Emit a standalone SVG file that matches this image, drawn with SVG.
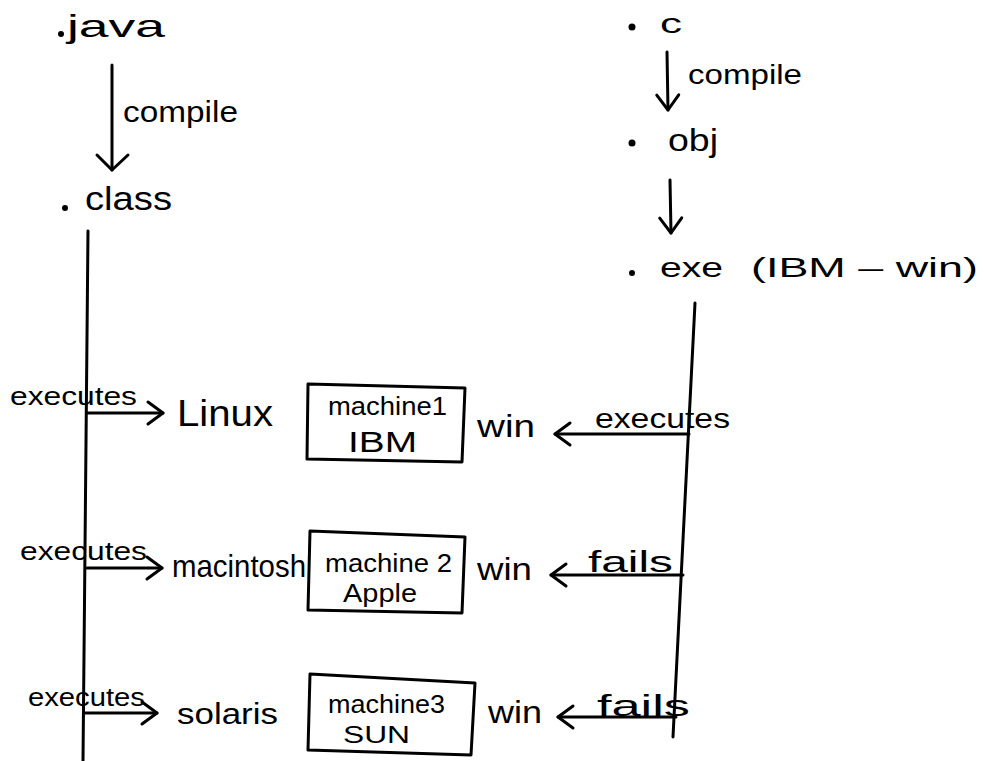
<svg xmlns="http://www.w3.org/2000/svg" width="984" height="761" viewBox="0 0 984 761">
  <style>
    text { font-family: "Liberation Sans", Arial, sans-serif; fill: #000; }
    .ln { stroke: #000; stroke-width: 3; fill: none; stroke-linecap: round; }
    .arr { stroke: #000; stroke-width: 3; fill: none; stroke-linecap: round; marker-end: url(#ah); }
    .arrbig { stroke: #000; stroke-width: 3; fill: none; stroke-linecap: round; marker-end: url(#ahbig); }
    .box { stroke: #000; stroke-width: 3; fill: #fff; stroke-linejoin: round; }
  </style>
  <defs>
    <marker id="ah" viewBox="0 0 20 28" refX="18" refY="14" markerWidth="20" markerHeight="28" markerUnits="userSpaceOnUse" orient="auto" overflow="visible">
      <path d="M3,3 L18,14 L3,25" fill="none" stroke="#000" stroke-width="3" stroke-linecap="round" stroke-linejoin="round"/>
    </marker>
    <marker id="ahbig" viewBox="0 0 20 36" refX="18" refY="18" markerWidth="20" markerHeight="36" markerUnits="userSpaceOnUse" orient="auto" overflow="visible">
      <path d="M3,2 L18,18 L3,33" fill="none" stroke="#000" stroke-width="3" stroke-linecap="round" stroke-linejoin="round"/>
    </marker>
  </defs>
  <rect width="984" height="761" fill="#fff"/>

  <!-- Left column nodes -->
  <g id="java">
    <circle cx="61" cy="34" r="3"/>
    <text x="67" y="37" font-size="32" textLength="98" lengthAdjust="spacingAndGlyphs">java</text>
  </g>
  <g id="class">
    <circle cx="65" cy="208" r="3"/>
    <text x="85" y="210" font-size="34" textLength="87" lengthAdjust="spacingAndGlyphs">class</text>
  </g>
  <g id="linux">
    <text x="177" y="426" font-size="36" textLength="96" lengthAdjust="spacingAndGlyphs">Linux</text>
  </g>
  <g id="macintosh">
    <text x="172" y="577" font-size="32" textLength="134" lengthAdjust="spacingAndGlyphs">macintosh</text>
  </g>
  <g id="solaris">
    <text x="177" y="724" font-size="30" textLength="101" lengthAdjust="spacingAndGlyphs">solaris</text>
  </g>

  <!-- Machines -->
  <g id="machine1">
    <polygon class="box" points="308,384 465,388 462,462 307,459"/>
    <text x="328" y="415" font-size="25" textLength="119" lengthAdjust="spacingAndGlyphs">machine1</text>
    <text x="348" y="452" font-size="30" textLength="69" lengthAdjust="spacingAndGlyphs">IBM</text>
  </g>
  <g id="machine2">
    <polygon class="box" points="310,531 465,537 462,613 308,610"/>
    <text x="325" y="572" font-size="25" textLength="127" lengthAdjust="spacingAndGlyphs">machine 2</text>
    <text x="343" y="602" font-size="26" textLength="74" lengthAdjust="spacingAndGlyphs">Apple</text>
  </g>
  <g id="machine3">
    <polygon class="box" points="310,674 475,683 471,755 308,750"/>
    <text x="328" y="713" font-size="25" textLength="117" lengthAdjust="spacingAndGlyphs">machine3</text>
    <text x="343" y="743" font-size="23" textLength="67" lengthAdjust="spacingAndGlyphs">SUN</text>
  </g>

  <!-- Right column nodes -->
  <g id="c">
    <circle cx="632" cy="27" r="3.5"/>
    <text x="660" y="33" font-size="28" textLength="22" lengthAdjust="spacingAndGlyphs">c</text>
  </g>
  <g id="obj">
    <circle cx="632" cy="143" r="3.5"/>
    <text x="668" y="151" font-size="32" textLength="50" lengthAdjust="spacingAndGlyphs">obj</text>
  </g>
  <g id="exe">
    <circle cx="632" cy="273" r="3"/>
    <text y="277" font-size="28"><tspan x="660" textLength="63" lengthAdjust="spacingAndGlyphs">exe</tspan><tspan x="751" textLength="227" lengthAdjust="spacingAndGlyphs">(IBM – win)</tspan></text>
  </g>
  <g id="win1">
    <text x="477" y="437" font-size="32" textLength="58" lengthAdjust="spacingAndGlyphs">win</text>
  </g>
  <g id="win2">
    <text x="477" y="580" font-size="32" textLength="55" lengthAdjust="spacingAndGlyphs">win</text>
  </g>
  <g id="win3">
    <text x="488" y="723" font-size="32" textLength="54" lengthAdjust="spacingAndGlyphs">win</text>
  </g>

  <!-- Connectors -->
  <g id="connectors">
    <line class="arrbig" x1="112" y1="65" x2="112" y2="170"/>
    <line class="ln" x1="88" y1="231" x2="83" y2="761"/>
    <line class="arr" x1="88" y1="413" x2="163" y2="413"/>
    <line class="arr" x1="87" y1="568" x2="162" y2="568"/>
    <line class="arr" x1="85" y1="713" x2="157" y2="713"/>
    <line class="arr" x1="667" y1="52" x2="668" y2="110"/>
    <line class="arr" x1="670" y1="180" x2="671" y2="233"/>
    <line class="ln" x1="695" y1="303" x2="673" y2="737"/>
    <line class="arr" x1="689" y1="434" x2="555" y2="434"/>
    <line class="arr" x1="683" y1="575" x2="551" y2="575"/>
    <line class="arr" x1="676" y1="717" x2="558" y2="717"/>
  </g>

  <!-- Connector labels -->
  <g id="labels">
    <text x="123" y="122" font-size="30" textLength="115" lengthAdjust="spacingAndGlyphs">compile</text>
    <text x="688" y="84" font-size="27" textLength="114" lengthAdjust="spacingAndGlyphs">compile</text>
    <text x="10" y="405" font-size="26" textLength="127" lengthAdjust="spacingAndGlyphs">executes</text>
    <text x="20" y="560" font-size="26" textLength="127" lengthAdjust="spacingAndGlyphs">executes</text>
    <text x="28" y="706" font-size="26" textLength="117" lengthAdjust="spacingAndGlyphs">executes</text>
    <text x="595" y="428" font-size="28" textLength="135" lengthAdjust="spacingAndGlyphs">executes</text>
    <text x="588" y="572" font-size="30" textLength="85" lengthAdjust="spacingAndGlyphs">fails</text>
    <text x="597" y="716" font-size="30" textLength="93" lengthAdjust="spacingAndGlyphs">fails</text>
  </g>
</svg>
